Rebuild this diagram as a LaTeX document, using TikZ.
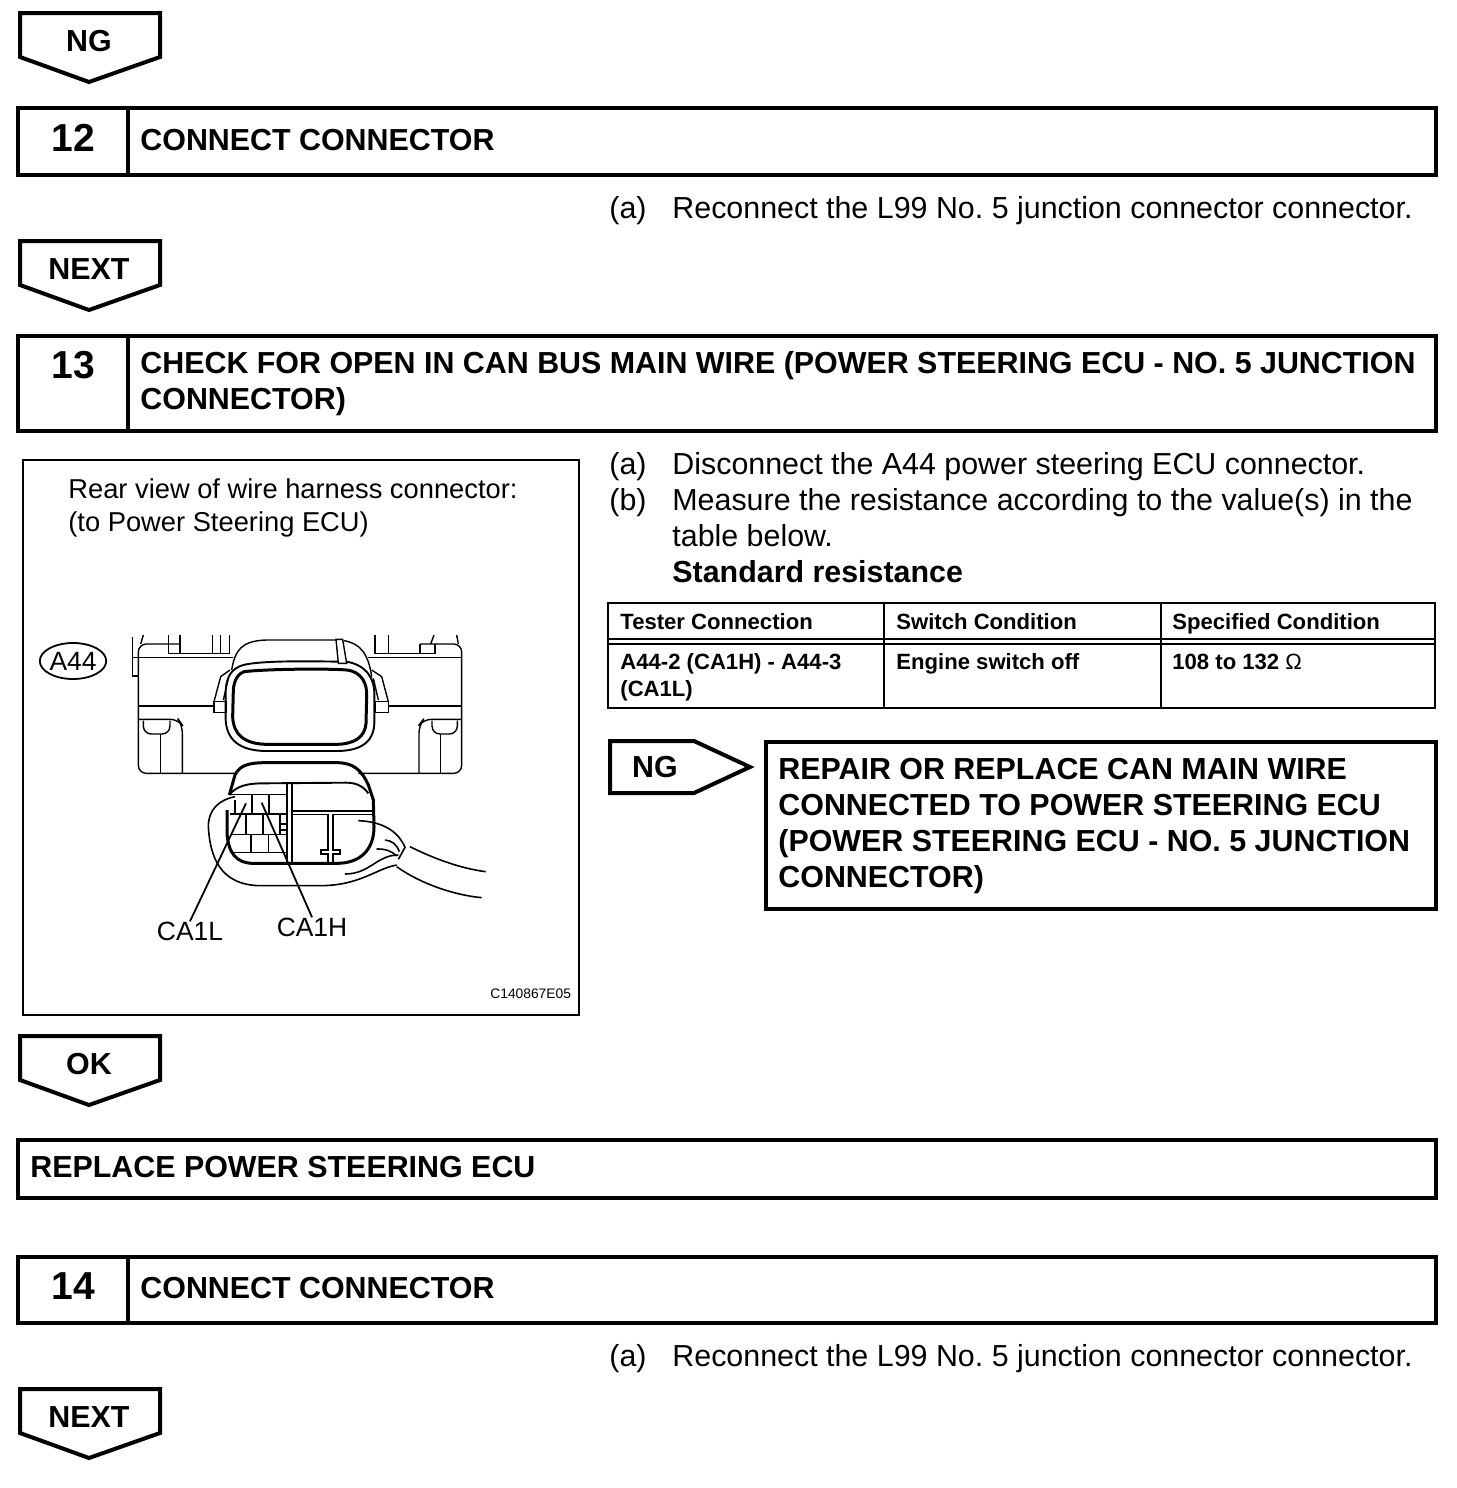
\documentclass[tikz,border=0pt]{standalone}
\usepackage{fontspec}
\setmainfont{Liberation Sans}
\usetikzlibrary{positioning,shapes.geometric}
\newcommand{\bodysize}{\fontsize{15.2}{18}\selectfont}
\newcommand{\headsize}{\fontsize{15.2}{18}\selectfont\bfseries}
\newcommand{\tablesize}{\fontsize{11.05}{14}\selectfont\bfseries}
\newcommand{\figsize}{\fontsize{13.65}{16}\selectfont}
\newcommand{\partsize}{\fontsize{13.2}{16}\selectfont}
\frenchspacing
\begin{document}
\begin{tikzpicture}[
  x=0.5pt, y=-0.5pt,
  bar/.style={draw, line width=2pt, minimum height=#1*0.5pt, minimum width=709pt, inner sep=0pt, outer sep=0pt, anchor=north west},
  num/.style={font=\fontsize{19.5}{22}\selectfont\bfseries, anchor=base},
  head/.style={font=\headsize, anchor=base west, inner sep=0pt},
  bodytext/.style={font=\bodysize, anchor=base west, inner sep=0pt},
  cell/.style={font=\tablesize, anchor=base west, inner sep=0pt},
  figtext/.style={font=\figsize, anchor=base west, inner sep=0pt},
  tag/.style={draw, line width=2pt, line join=miter},
  tagtext/.style={font=\fontsize{15.2}{18}\selectfont\bfseries},
  rul/.style={line width=1.1pt},
  thin part/.style={line width=0.7pt},
  mid part/.style={line width=0.95pt},
  thick part/.style={line width=1.5pt}
]
\useasboundingbox (0,0) rectangle (1456,1488);

% flow tags pointing down
\foreach \y/\t/\n in {13/NG/tagng, 241/NEXT/tagnexta, 1036/OK/tagok, 1389/NEXT/tagnextb}{
  \draw[tag] (20,\y) -- (160,\y) -- (160,\y+44) -- (89,\y+69) -- (20,\y+44) -- cycle;
  \node[tagtext] (\n) at (89,\y+28) {\t};
}

% step 12
\node[bar=67] (stepa) at (18,108) {};
\draw[line width=2pt] (128,108) -- (128,175);
\node[num] (numa) at (73.5,151) {12};
\node[head] (heada) at (140,150) {CONNECT CONNECTOR};
\node[bodytext] (aa) at (609,218) {(a)};
\node[bodytext] (ab) at (672,218) {Reconnect the L99 No. 5 junction connector connector.};

% step 13
\node[bar=95] (stepb) at (18,336) {};
\draw[line width=2pt] (128,336) -- (128,431);
\node[num] (numb) at (73.5,378) {13};
\node[head] (headb) at (140,373) {CHECK FOR OPEN IN CAN BUS MAIN WIRE (POWER STEERING ECU - NO. 5 JUNCTION};
\node[head] (headc) at (140,409) {CONNECTOR)};
\node[bodytext] (ba) at (609,474) {(a)};
\node[bodytext] (bb) at (672,474) {Disconnect the A44 power steering ECU connector.};
\node[bodytext] (bc) at (609,510) {(b)};
\node[bodytext] (bd) at (672,510) {Measure the resistance according to the value(s) in the};
\node[bodytext] (be) at (672,546) {table below.};
\node[bodytext, font=\bodysize\bfseries] (bf) at (672,582) {Standard resistance};

% table
\draw[rul] (608,603) rectangle (1435,708);
\draw[rul] (884,603) -- (884,708);
\draw[rul] (1161,603) -- (1161,708);
\draw[rul] (608,639) -- (1435,639);
\draw[rul] (608,644) -- (1435,644);
\node[cell] (ta) at (620,629) {Tester Connection};
\node[cell] (tb) at (896,629) {Switch Condition};
\node[cell] (tc) at (1172,629) {Specified Condition};
\node[cell] (td) at (620,669) {A44-2 (CA1H) - A44-3};
\node[cell] (te) at (620,696) {(CA1L)};
\node[cell] (tf) at (896,669) {Engine switch off};
\node[cell] (tg) at (1172,669) {108 to 132 {\mdseries Ω}};

% result for NG
\draw[tag] (610,741) -- (694,741) -- (750,767) -- (694,793) -- (610,793) -- cycle;
\node[tagtext] (tagngb) at (655,767) {NG};
\node[bar=167, minimum width=335pt] (repair) at (766,742) {};
\node[head] (ra) at (778,779) {REPAIR OR REPLACE CAN MAIN WIRE};
\node[head] (rb) at (778,815) {CONNECTED TO POWER STEERING ECU};
\node[head] (rc) at (778,851) {(POWER STEERING ECU - NO. 5 JUNCTION};
\node[head] (rd) at (778,887) {CONNECTOR)};

% figure frame and texts
\draw[line width=1.1pt] (23,460) rectangle (579,1015);
\node[figtext] (fa) at (68,498) {Rear view of wire harness connector:};
\node[figtext] (fb) at (68,531) {(to Power Steering ECU)};
\node[draw, ellipse, line width=0.9pt, minimum width=33pt, minimum height=18pt, inner sep=0pt, font=\partsize] (conn) at (73,661) {A44};
\node[font=\partsize, inner sep=0pt] (ca1l) at (190,931) {CA1L};
\node[font=\partsize, inner sep=0pt] (ca1h) at (312,927) {CA1H};
\node[figtext, font=\fontsize{6.9}{8}\selectfont] (code) at (490,998) {C140867E05};

% connector drawing
\begin{scope}[shift={(120,620)}, x=0.16667pt, y=-0.16667pt]
  % housing
  \draw[thin part, rounded corners=4pt] (345,460) -- (55,460) -- (55,72) -- (180,72);
  \draw[thin part, rounded corners=4pt] (715,460) -- (1025,460) -- (1025,72) -- (900,72);
  \draw[thin part] (38,50) -- (38,168) -- (55,168);
  \draw[thin part] (38,113) -- (340,113);
  \draw[thin part] (745,113) -- (1025,113);
  \draw[thin part] (55,258) -- (282,258);
  \draw[thin part] (805,258) -- (1025,258);
  % top clips
  \draw[thin part] (70,45) -- (62,72);
  \draw[thin part] (145,45) -- (145,100) -- (328,100) -- (328,45);
  \draw[thin part] (180,45) -- (180,100);
  \draw[thin part] (278,45) -- (278,100);
  \draw[thin part] (302,45) -- (302,100);
  \draw[thin part] (765,45) -- (765,100) -- (945,100) -- (945,72);
  \draw[thin part] (805,45) -- (805,100);
  \draw[thin part] (900,72) -- (900,100);
  \draw[thin part] (1010,45) -- (1015,72);
  \draw[thin part] (942,45) -- (932,72);
  % lower pockets
  \draw[thin part, rounded corners=4pt] (70,302) -- (70,342) -- (150,342) -- (150,302);
  \draw[thin part, rounded corners=4pt] (55,298) -- (175,298) -- (187,315) -- (187,460);
  \draw[thin part] (122,342) -- (122,460);
  \draw[thin part, rounded corners=4pt] (936,302) -- (936,342) -- (1012,342) -- (1012,302);
  \draw[thin part, rounded corners=4pt] (1025,298) -- (910,298) -- (897,315) -- (897,460);
  \draw[thin part] (962,342) -- (962,460);
  % side latches
  \draw[thin part] (282,245) rectangle (320,278);
  \draw[thin part] (282,245) -- (302,170) -- (330,150);
  \draw[thin part] (310,240) -- (325,175);
  \draw[thin part] (765,245) rectangle (805,278);
  \draw[thin part] (805,245) -- (785,170) -- (755,150);
  \draw[thin part] (775,240) -- (760,175);
  % upper plug
  \draw[thin part] (335,150) .. controls (345,90) and (365,62) .. (440,60) -- (650,60);
  \draw[thin part] (672,62) .. controls (720,70) and (745,100) .. (755,170);
  \draw[thin part] (648,58) -- (655,130) -- (680,130) -- (668,58) -- cycle;
  \draw[mid part] (655,125) .. controls (500,122) and (410,125) .. (370,135)
    .. controls (335,145) and (315,170) .. (317,230)
    -- (317,300) .. controls (320,360) and (360,393) .. (440,393)
    -- (650,393) .. controls (730,393) and (765,360) .. (763,300)
    -- (763,230) .. controls (765,170) and (735,135) .. (680,125);
  \draw[thick part] (372,155) .. controls (440,147) and (620,145) .. (680,150)
    .. controls (725,155) and (742,190) .. (740,230)
    -- (738,310) .. controls (735,350) and (705,372) .. (650,373)
    -- (440,373) .. controls (375,372) and (340,345) .. (338,290)
    -- (340,210) .. controls (342,180) and (355,160) .. (372,155) -- cycle;
  % lower plug
  \draw[thick part] (328,525) -- (345,465) .. controls (360,432) and (395,428) .. (440,428)
    -- (650,428) .. controls (700,428) and (725,450) .. (745,495) -- (760,540)
    -- (762,620) .. controls (762,690) and (720,730) .. (650,730)
    -- (400,730) .. controls (350,730) and (325,700) .. (321,640) -- (321,570);
  \draw[mid part] (328,525) .. controls (350,495) and (390,490) .. (430,490)
    -- (680,488) .. controls (715,488) and (735,505) .. (745,520);
  % terminal cells
  \draw[line width=1.1pt] (500,488) -- (500,730);
  \draw[line width=1.1pt] (515,488) -- (515,730);
  \draw[thin part] (515,573) -- (760,573);
  \draw[thin part] (515,583) -- (625,583);
  \draw[thin part] (640,583) -- (760,583);
  \draw[thin part] (330,523) -- (500,523);
  \draw[thin part] (330,582) -- (500,582);
  \draw[thin part] (335,643) -- (500,643);
  \draw[thin part] (340,697) -- (500,697);
  \draw[line width=0.9pt] (397,523) -- (397,582);
  \draw[thin part] (447,523) -- (447,582);
  \draw[thin part] (345,540) -- (345,582);
  \draw[line width=0.9pt] (378,582) -- (378,643);
  \draw[line width=0.9pt] (430,582) -- (430,643);
  \draw[line width=0.9pt] (393,643) -- (393,697);
  \draw[thin part] (445,643) -- (445,697);
  \draw[thin part] (480,612) -- (497,612);
  \draw[thin part] (480,630) -- (497,630);
  \draw[thin part] (480,582) -- (480,643);
  % key
  \draw[line width=0.9pt] (625,583) -- (625,690) -- (603,690) -- (603,703) -- (625,703) -- (625,730);
  \draw[line width=0.9pt] (640,583) -- (640,690) -- (660,690) -- (660,703) -- (640,703) -- (640,730);
  % cover and wires
  \draw[line width=0.8pt] (345,530) .. controls (295,540) and (265,570) .. (265,620)
    .. controls (270,710) and (300,795) .. (420,797)
    -- (600,797) .. controls (720,797) and (770,745) .. (830,735);
  \draw[line width=0.8pt] (715,602) .. controls (790,605) and (835,635) .. (855,682) -- (835,718);
  \draw[line width=0.8pt] (795,660) .. controls (815,662) and (830,672) .. (838,695);
  \draw[line width=0.8pt] (770,687) .. controls (790,685) and (815,692) .. (830,708);
  \draw[line width=0.8pt] (675,762) .. controls (750,762) and (770,705) .. (835,705);
  \draw[line width=0.8pt] (870,680) .. controls (940,715) and (1020,745) .. (1097,755);
  \draw[line width=0.8pt] (830,740) .. controls (900,790) and (1000,825) .. (1085,833);
  % leader ends
  \coordinate (ca1lpin) at (378,550);
  \coordinate (ca1hpin) at (425,548);
\end{scope}
\draw[line width=0.9pt] (ca1l.north) -- (ca1lpin);
\draw[line width=0.9pt] (ca1h.north) -- (ca1hpin);

% replace box
\node[bar=58] (replace) at (18,1140) {};
\node[head] (ea) at (30,1177) {REPLACE POWER STEERING ECU};

% step 14
\node[bar=66] (stepc) at (18,1257) {};
\draw[line width=2pt] (128,1257) -- (128,1323);
\node[num] (numc) at (73.5,1299) {14};
\node[head] (headd) at (140,1298) {CONNECT CONNECTOR};
\node[bodytext] (ca) at (609,1366) {(a)};
\node[bodytext] (cb) at (672,1366) {Reconnect the L99 No. 5 junction connector connector.};
\end{tikzpicture}
\end{document}
